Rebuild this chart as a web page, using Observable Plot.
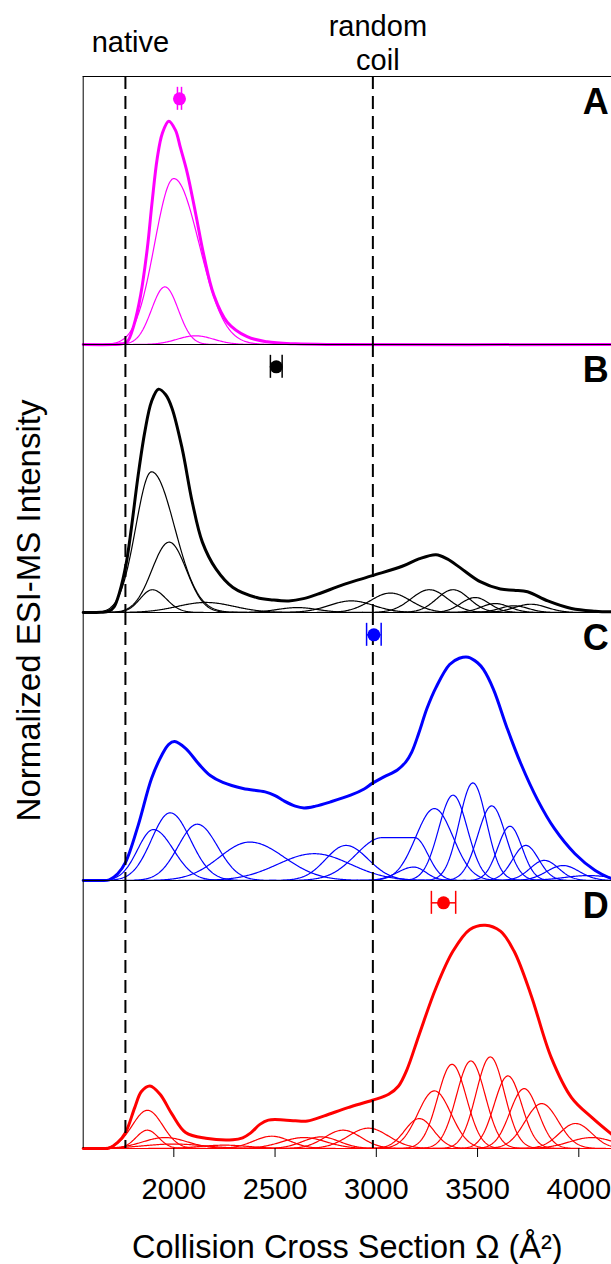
<!DOCTYPE html>
<html>
<head>
<meta charset="utf-8">
<script src="https://cdn.jsdelivr.net/npm/d3@7"></script>
<script src="https://cdn.jsdelivr.net/npm/@observablehq/plot@0.6"></script>
<style>
  html, body { margin: 0; padding: 0; background: #fff; }
  #chart svg { display: block; }
</style>
</head>
<body>
<div id="chart"></div>
<script>
// ---------------- data ----------------
const panels = ["A", "B", "C", "D"];
const panelColors = ["#ff00ff", "#000000", "#0000ff", "#ff0000"];
const xTicks = [2000, 2500, 3000, 3500, 4000];
const xTitle = "Collision Cross Section Ω (Å²)";
const yTitle = "Normalized ESI-MS Intensity";
const refLabels = ["native", "random\ncoil"];
const refCCS = [1761, 2983];

// average CCS (dot) and its error per panel
const avgCCS = [2028, 2506, 2988, 3332];
const avgErr = [10, 29, 36, 60];

// summed (thick) profiles: [CCS, normalized intensity]
const sumA = [[1552.5,0],[1700,0],[1745,0.003],[1770,0.012],[1803,0.087],[1836,0.22],[1869,0.43],[1893,0.64],[1918,0.833],[1943,0.945],[1975,1.0],[2008,0.96],[2033,0.88],[2066,0.77],[2107,0.59],[2148,0.40],[2198,0.22],[2264,0.10],[2362,0.035],[2461,0.012],[2600,0.003],[2800,0],[4161.5,0]];
const sumB = [[1552.5,0],[1640,0.001],[1680,0.006],[1705,0.025],[1732,0.09],[1765,0.22],[1790,0.375],[1824,0.615],[1857,0.81],[1890,0.945],[1924,1.0],[1960,0.975],[1991,0.915],[2041,0.735],[2091,0.495],[2141,0.315],[2208,0.195],[2292,0.112],[2409,0.067],[2490,0.056],[2568,0.052],[2640,0.062],[2710,0.082],[2844,0.127],[2981,0.165],[3128,0.207],[3210,0.24],[3295,0.259],[3350,0.24],[3412,0.202],[3513,0.138],[3613,0.105],[3680,0.1],[3747,0.093],[3847,0.052],[3964,0.018],[4081,0.006],[4161.5,0.003]];
const sumC = [[1552.5,0],[1640,0],[1681,0.003],[1723,0.03],[1762,0.082],[1824,0.247],[1890,0.457],[1941,0.562],[1975,0.61],[2004,0.622],[2058,0.592],[2125,0.52],[2180,0.47],[2242,0.439],[2342,0.412],[2451,0.397],[2500,0.38],[2543,0.357],[2600,0.333],[2643,0.325],[2700,0.333],[2774,0.352],[2873,0.382],[2940,0.41],[2980,0.435],[3040,0.465],[3104,0.495],[3145,0.53],[3175,0.575],[3210,0.66],[3250,0.77],[3295,0.865],[3362,0.967],[3410,0.995],[3454,1.0],[3500,0.975],[3529,0.945],[3579,0.855],[3646,0.682],[3713,0.525],[3797,0.36],[3880,0.232],[3981,0.12],[4081,0.045],[4161.5,0.008]];
const sumD = [[1552.5,0],[1640,0],[1681,0.002],[1723,0.027],[1762,0.072],[1807,0.183],[1840,0.255],[1882,0.28],[1932,0.243],[1991,0.154],[2058,0.072],[2158,0.046],[2292,0.039],[2340,0.048],[2380,0.07],[2425,0.108],[2467,0.127],[2543,0.128],[2600,0.124],[2660,0.123],[2743,0.146],[2860,0.183],[2981,0.216],[3061,0.243],[3110,0.28],[3150,0.35],[3212,0.511],[3295,0.72],[3379,0.884],[3462,0.981],[3538,1.0],[3613,0.973],[3680,0.884],[3763,0.69],[3864,0.407],[3964,0.228],[4064,0.139],[4161.5,0.064]];

// fitted components (thin): [centre CCS, height, width left, width right, flat top length]
const compA = [[2000,0.743,95,125,0],[1956,0.258,66,66,0],[2107,0.039,90,90,0]];
const compB = [[1890,0.63,78,114,0],[1977,0.315,85,85,0],[1894,0.102,60,68,0],[2158,0.045,140,140,0],[2610,0.022,100,100,0],[2877,0.052,110,110,0],[3070,0.087,100,100,0],[3262,0.102,90,90,0],[3379,0.102,80,80,0],[3488,0.067,70,70,0],[3588,0.04,70,70,0],[3680,0.03,70,70,0],[3763,0.037,80,80,0]];
const compC = [[1899,0.228,78,99,0],[1982,0.303,92,100,0],[2116,0.252,95,100,0],[2375,0.172,150,170,0],[2693,0.12,180,180,0],[2850,0.157,100,110,0],[3030,0.192,130,65,160],[3185,0.06,80,60,0],[3287,0.322,92,92,0],[3379,0.382,71,71,0],[3477,0.437,67,67,0],[3570,0.334,69,69,0],[3660,0.243,60,60,0],[3738,0.157,64,64,0],[3830,0.09,70,70,0],[3922,0.067,80,80,0],[4048,0.022,120,120,0]];
const compD = [[1870,0.171,75,75,0],[1869,0.082,55,55,0],[1957,0.049,110,110,0],[2000,0.02,150,150,0],[2250,0.015,120,120,0],[2484,0.055,90,90,0],[2643,0.049,110,110,0],[2727,0.052,90,90,0],[2835,0.082,90,90,0],[2961,0.091,100,100,0],[3212,0.134,71,71,0],[3287,0.258,82,82,0],[3374,0.377,71,71,0],[3467,0.392,71,71,0],[3563,0.41,70,70,0],[3650,0.325,68,68,0],[3730,0.268,70,70,0],[3817,0.201,82,82,0],[3984,0.112,80,80,0],[4064,0.049,110,110,0]];

// ---------------- layout constants ----------------
const xDomain = [1552.5, 4161.5];
const yTop = 1.2;
const markerLevel = 1.10;
const FONT = "'Liberation Sans', Arial, Helvetica, sans-serif";

// ---------------- tables ----------------
const sums = [sumA, sumB, sumC, sumD];
const comps = [compA, compB, compC, compD];
const sumRows = sums.flatMap((s, i) => s.map(([x, y]) => ({panel: panels[i], color: panelColors[i], x, y})));
const grid = d3.range(xDomain[0], xDomain[1] + 0.001, 4);
function profile(x, [c, h, sl, sr, flat]) {
  if (x < c) return h * Math.exp(-0.5 * ((x - c) / sl) ** 2);
  if (x <= c + flat) return h;
  return h * Math.exp(-0.5 * ((x - c - flat) / sr) ** 2);
}
const compRows = comps.flatMap((list, i) => list.flatMap((p, k) =>
  grid.map(x => ({panel: panels[i], color: panelColors[i], id: panels[i] + k, x, y: profile(x, p)}))));
const refRows = panels.flatMap(p => refCCS.map(x => ({panel: p, x})));
const markerRows = panels.map((p, i) => ({panel: p, color: panelColors[i], ccs: avgCCS[i], err: avgErr[i]}));
const frameRows = panels.map(p => ({panel: p}));

const chart = Plot.plot({
  width: 611,
  height: 1264,
  marginTop: 75,
  marginBottom: 116,
  marginLeft: 82.7,
  marginRight: 0,
  x: {domain: xDomain},
  y: {domain: [0, yTop], axis: null},
  fy: {domain: panels, padding: 0, axis: null},
  color: {type: "identity"},
  style: {fontFamily: FONT, fontSize: "29px", background: "white", color: "black", overflow: "visible"},
  marks: [
    Plot.ruleY(frameRows, {fy: "panel", y: () => 0, stroke: "black", strokeWidth: 1}),
    Plot.line(compRows, {x: "x", y: "y", z: "id", fy: "panel", stroke: "color", strokeWidth: 1.2}),
    Plot.line(sumRows, {x: "x", y: "y", z: "panel", fy: "panel", stroke: "color", strokeWidth: 3, curve: "catmull-rom"}),
    Plot.ruleX(refRows, {x: "x", fy: "panel", stroke: "black", strokeWidth: 2, strokeDasharray: "13,7"}),
    Plot.ruleY(frameRows, {fy: "panel", y: () => yTop, stroke: "black", strokeWidth: 1}),
    Plot.ruleX(frameRows, {fy: "panel", x: () => xDomain[0], stroke: "black", strokeWidth: 1}),
    Plot.ruleY(markerRows, {fy: "panel", y: () => markerLevel, x1: d => d.ccs - d.err, x2: d => d.ccs + d.err, stroke: "color", strokeWidth: 1.5}),
    Plot.ruleX(markerRows, {fy: "panel", x: d => d.ccs - d.err, y1: () => markerLevel, y2: () => markerLevel, insetTop: -11.5, insetBottom: -11.5, stroke: "color", strokeWidth: 1.5}),
    Plot.ruleX(markerRows, {fy: "panel", x: d => d.ccs + d.err, y1: () => markerLevel, y2: () => markerLevel, insetTop: -11.5, insetBottom: -11.5, stroke: "color", strokeWidth: 1.5}),
    Plot.dot(markerRows, {fy: "panel", x: "ccs", y: () => markerLevel, r: 6.5, fill: "color", stroke: null}),
    Plot.text(frameRows, {fy: "panel", text: "panel", frameAnchor: "top-right", textAnchor: "end", lineAnchor: "top", dx: -2.7, dy: 12.3, fontSize: 36, fontWeight: "bold", fill: "black"}),
    Plot.text([{panel: "A", x: refCCS[0], label: refLabels[0]}], {fy: "panel", x: "x", y: () => yTop, text: "label", lineAnchor: "bottom", dx: 5, dy: -24.3, fontSize: 29, fill: "black"}),
    Plot.text([{panel: "A", x: refCCS[1], label: refLabels[1]}], {fy: "panel", x: "x", y: () => yTop, text: "label", lineAnchor: "bottom", dx: 5, dy: -6.7, fontSize: 29, lineHeight: 1.17, fill: "black"}),
    Plot.axisX({ticks: xTicks, tickFormat: d3.format("d"), tickSize: 9, tickPadding: 21, label: null, fontSize: 29, stroke: "black"}),
    Plot.text([{panel: "D"}], {fy: "panel", frameAnchor: "bottom", text: () => xTitle, lineAnchor: "bottom", dx: 0, dy: 109.3, fontSize: 32.5, fill: "black"}),
    Plot.text([{panel: "B"}], {fy: "panel", frameAnchor: "bottom-left", text: () => yTitle, rotate: -90, textAnchor: "middle", lineAnchor: "middle", dx: -53.7, dy: -2, fontSize: 33, fill: "black"})
  ]
});
document.getElementById("chart").appendChild(chart);
</script>
</body>
</html>
